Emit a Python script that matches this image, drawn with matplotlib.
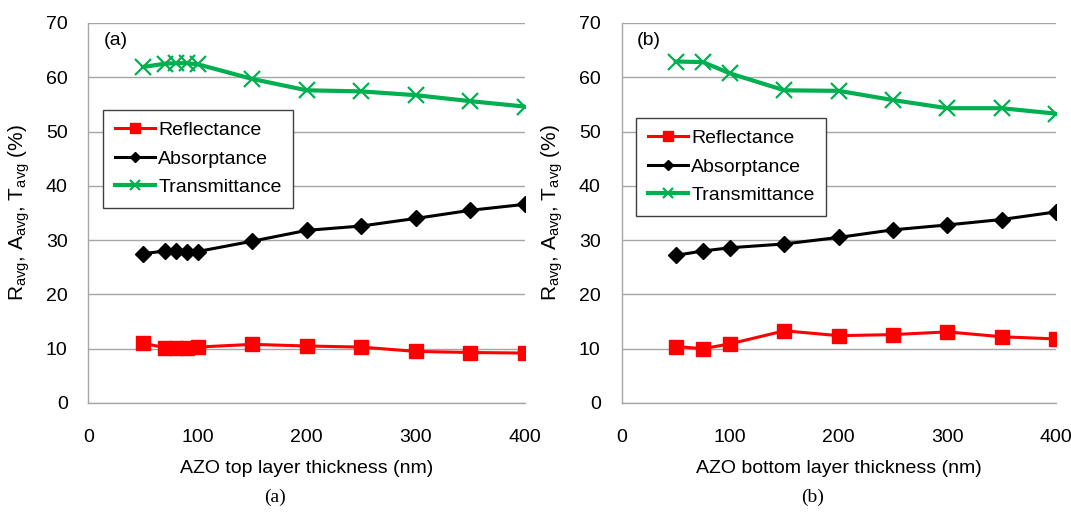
import matplotlib
matplotlib.use("Agg")
import matplotlib.pyplot as plt

plt.rcParams['font.family'] = ['Liberation Sans', 'DejaVu Sans']

# Panel (a): AZO top layer thickness
x_a = [50, 70, 80, 90, 100, 150, 200, 250, 300, 350, 400]
refl_a = [11.0, 10.2, 10.2, 10.2, 10.3, 10.8, 10.5, 10.3, 9.5, 9.3, 9.2]
abs_a = [27.5, 28.0, 28.0, 27.9, 27.9, 29.8, 31.8, 32.6, 34.0, 35.5, 36.6]
trans_a = [61.9, 62.5, 62.6, 62.6, 62.4, 59.7, 57.6, 57.4, 56.7, 55.6, 54.6]

# Panel (b): AZO bottom layer thickness
x_b = [50, 75, 100, 150, 200, 250, 300, 350, 400]
refl_b = [10.4, 10.0, 10.9, 13.3, 12.4, 12.6, 13.1, 12.2, 11.8]
abs_b = [27.2, 28.0, 28.6, 29.3, 30.5, 31.9, 32.8, 33.8, 35.2]
trans_b = [62.9, 62.8, 60.7, 57.6, 57.5, 55.8, 54.3, 54.3, 53.3]

xlabels = ["AZO top layer thickness (nm)", "AZO bottom layer thickness (nm)"]
panel_tags = ["(a)", "(b)"]
yticks = [0, 10, 20, 30, 40, 50, 60, 70]
xticks = [0, 100, 200, 300, 400]

RED = '#ff0000'
BLACK = '#000000'
GREEN = '#00b050'
GRID = '#a6a6a6'

fig = plt.figure(figsize=(10.71, 5.12), dpi=100)
ax_a = fig.add_axes([0.0826, 0.2129, 0.4076, 0.7422])
ax_b = fig.add_axes([0.5803, 0.2129, 0.4057, 0.7422])

data = [(ax_a, x_a, refl_a, abs_a, trans_a), (ax_b, x_b, refl_b, abs_b, trans_b)]
legend_tops = [0.771, 0.75]

for i, (ax, x, r, a, t) in enumerate(data):
    ax.plot(x, r, color=RED, lw=2.2, marker='s', ms=10, mfc=RED, mec=RED,
            label='Reflectance', zorder=3)
    ax.plot(x, a, color=BLACK, lw=2.2, marker='D', ms=8, mfc=BLACK, mec=BLACK,
            label='Absorptance', zorder=3)
    ax.plot(x, t, color=GREEN, lw=3.0, marker='x', ms=12, mew=1.6, mec=GREEN,
            label='Transmittance', zorder=3)
    ax.set_xlim(0, 400)
    ax.set_ylim(0, 70)
    ax.set_xticks(xticks)
    ax.set_yticks(yticks)
    ax.grid(axis='y', color=GRID, lw=1.0)
    ax.set_axisbelow(True)
    for s in ['top', 'right']:
        ax.spines[s].set_visible(False)
    for s in ['left', 'bottom']:
        ax.spines[s].set_color(GRID)
        ax.spines[s].set_linewidth(1.0)
    ax.tick_params(axis='both', length=0, labelsize=14)
    ax.tick_params(axis='y', pad=15)
    ax.tick_params(axis='x', pad=19)
    ax.set_xlabel(xlabels[i], fontsize=14, labelpad=10)
    ax.set_ylabel(r'R$_{\mathregular{avg}}$, A$_{\mathregular{avg}}$, T$_{\mathregular{avg}}$ (%)',
                  fontsize=15, labelpad=10)
    ax.text(0.035, 0.955, panel_tags[i], transform=ax.transAxes, fontsize=14,
            ha='left', va='center')
    leg = ax.legend(loc='upper left', bbox_to_anchor=(0.033, legend_tops[i]),
                    fontsize=14, frameon=True, fancybox=False, edgecolor='#404040',
                    framealpha=1, handlelength=2.1, markerscale=0.65,
                    borderpad=0.6, labelspacing=0.55, handletextpad=0.15,
                    borderaxespad=0)
    leg.get_frame().set_linewidth(1.0)

fig.text(275 / 1071, 1 - 497 / 512, '(a)', ha='center', va='center',
         fontsize=14, family=['Liberation Serif', 'DejaVu Serif'])
fig.text(813 / 1071, 1 - 497 / 512, '(b)', ha='center', va='center',
         fontsize=14, family=['Liberation Serif', 'DejaVu Serif'])

fig.savefig('out.png', dpi=100)
